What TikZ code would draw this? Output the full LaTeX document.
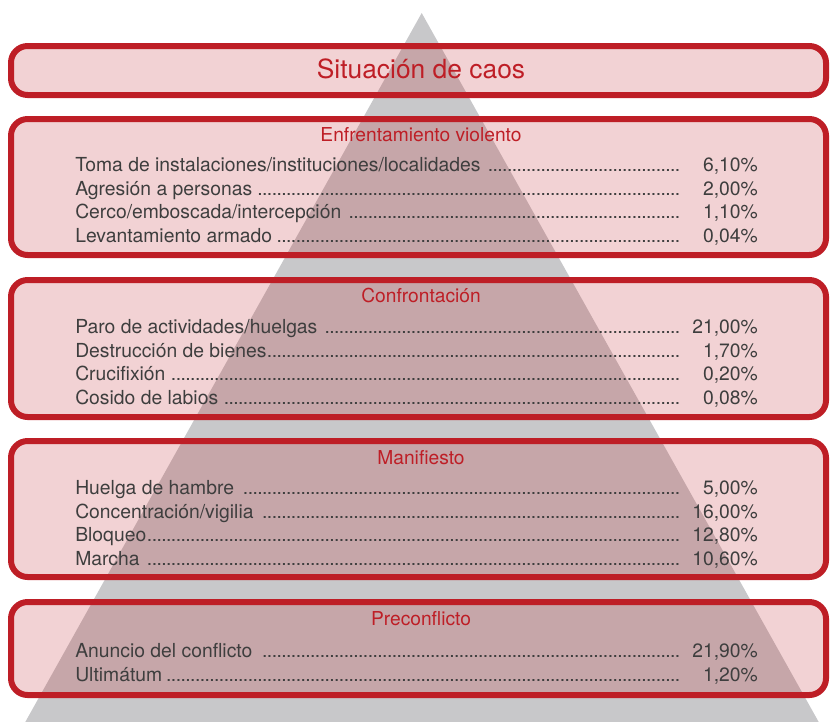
\documentclass[tikz,border=0pt]{standalone}
\usepackage{fontspec}
\setmainfont{TeX Gyre Heros}
\usepackage{tikz}
\usetikzlibrary{positioning}
\definecolor{chaosred}{RGB}{190,30,38}
\definecolor{pyrgray}{RGB}{200,200,202}
\definecolor{inkgray}{RGB}{62,62,62}
\newcommand{\densedots}{\leaders\hbox to 3.6pt{\hss.\hss}\hfill}
\newcommand{\entry}[2]{\makebox[456pt][l]{#1\densedots}\makebox[56pt][r]{#2}}
\tikzset{%
	level/.style = {draw = chaosred, line width = 4.5pt, rounded corners = 12.5pt, fill = chaosred, fill opacity = 0.2, draw opacity = 1},
	title/.style = {name = #1, text = chaosred, font = \fontsize{19.8}{22}\selectfont, anchor = base, inner sep = 0pt},
	head/.style = {name = #1, text = chaosred, font = \fontsize{14.4}{16}\selectfont, anchor = base, inner sep = 0pt},
	item/.style = {name = #1, text = inkgray, font = \fontsize{14.5}{16}\selectfont, anchor = base west, inner sep = 0pt}
}

\begin{document}
\begin{tikzpicture}[x=0.75pt, y=-0.75pt]
			\useasboundingbox (0,0) rectangle (830,721);
			\clip (0,0) rectangle (830,721);
			% pyramid behind the levels
			\fill [pyrgray] (421.7,13) -- (18,735) -- (826,735) -- cycle;
			% levels
			\draw [level] (11,46) rectangle (826,95);
			\draw [level] (11,119) rectangle (826,255);
			\draw [level] (11,280) rectangle (826,417);
			\draw [level] (11,441) rectangle (826,577);
			\draw [level] (11,602) rectangle (826,695);
			\node [title = {caos}] at (421,78) {Situación de caos};
			\node [head = {violento}] at (421,141) {Enfrentamiento violento};
			\node [item = {toma}] at (75,171) {\entry{Toma de instalaciones/instituciones/localidades }{6,10\%}};
			\node [item = {agresion}] at (75,195) {\entry{Agresión a personas }{2,00\%}};
			\node [item = {cerco}] at (75,218) {\entry{Cerco/emboscada/intercepción }{1,10\%}};
			\node [item = {levantamiento}] at (75,242) {\entry{Levantamiento armado}{0,04\%}};
			\node [head = {confrontacion}] at (421,302) {Confrontación};
			\node [item = {paro}] at (75,333) {\entry{Paro de actividades/huelgas }{21,00\%}};
			\node [item = {destruccion}] at (75,357) {\entry{Destrucción de bienes}{1,70\%}};
			\node [item = {crucifixion}] at (75,380) {\entry{Crucifixión }{0,20\%}};
			\node [item = {cosido}] at (75,404) {\entry{Cosido de labios }{0,08\%}};
			\node [head = {manifiesto}] at (421,464) {Manifiesto};
			\node [item = {hambre}] at (75,494) {\entry{Huelga de hambre }{5,00\%}};
			\node [item = {vigilia}] at (75,518) {\entry{Concentración/vigilia }{16,00\%}};
			\node [item = {bloqueo}] at (75,541) {\entry{Bloqueo}{12,80\%}};
			\node [item = {marcha}] at (75,565) {\entry{Marcha }{10,60\%}};
			\node [head = {preconflicto}] at (421,625) {Preconflicto};
			\node [item = {anuncio}] at (75,657) {\entry{Anuncio del conflicto }{21,90\%}};
			\node [item = {ultimatum}] at (75,681) {\entry{Ultimátum}{1,20\%}};
			\end{tikzpicture}
\end{document}
